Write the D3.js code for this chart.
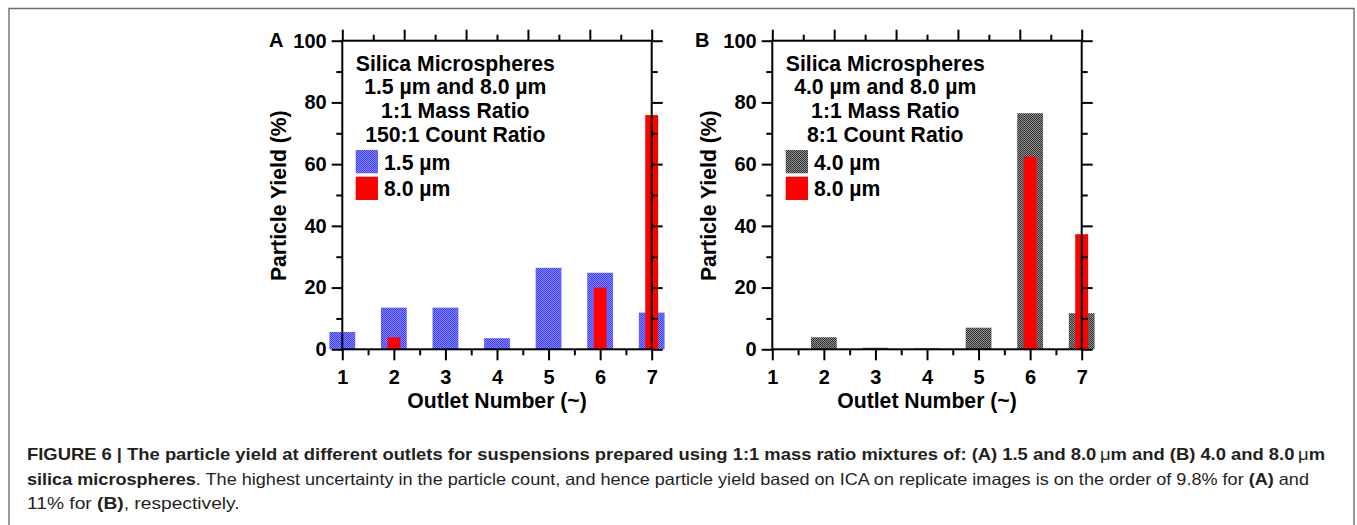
<!DOCTYPE html>
<html>
<head>
<meta charset="utf-8">
<script src="https://cdn.jsdelivr.net/npm/d3@7/dist/d3.min.js"></script>
<style>
  html, body { margin: 0; padding: 0; background: #fff; }
  svg { display: block; }
  .chart text { font-family: "Liberation Sans", Arial, sans-serif; font-weight: bold; fill: #000; }
  .cap text { font-family: "Liberation Sans Narrow", "Liberation Sans", Arial, sans-serif; fill: #231f20; }
</style>
</head>
<body>
<svg id="fig" width="1357" height="525"></svg>
<script>
// ---------------- data ----------------
const outlets = [1, 2, 3, 4, 5, 6, 7];
const xTickValues = [1, 2, 3, 4, 5, 6, 7];
const xMinorValues = [1.5, 2.5, 3.5, 4.5, 5.5, 6.5];
const yTickValues = [0, 20, 40, 60, 80, 100];
const yMinorValues = [10, 30, 50, 70, 90];

const yieldA_small = [5.6, 13.5, 13.5, 3.6, 26.4, 24.8, 11.9];   // 1.5 µm
const yieldA_large = [0, 3.9, 0, 0, 0, 20.0, 75.9];              // 8.0 µm
const yieldB_small = [0, 3.9, 0.5, 0.3, 7.0, 76.5, 11.7];        // 4.0 µm
const yieldB_large = [0, 0, 0, 0, 0, 62.4, 37.3];                // 8.0 µm

const legendA = ["Silica Microspheres", "1.5 µm and 8.0 µm", "1:1 Mass Ratio", "150:1 Count Ratio"];
const legendB = ["Silica Microspheres", "4.0 µm and 8.0 µm", "1:1 Mass Ratio", "8:1 Count Ratio"];
const seriesA = ["1.5 µm", "8.0 µm"];
const seriesB = ["4.0 µm", "8.0 µm"];
const xTitle = "Outlet Number (~)";
const yTitle = "Particle Yield (%)";

// ---------------- layout ----------------
const svg = d3.select("#fig");
svg.append("rect").attr("width", 1357).attr("height", 525).attr("fill", "#fff");

// outer border (open at bottom)
svg.append("path")
  .attr("d", "M9,540 L9,8.5 L1354,8.5 L1354,540")
  .attr("fill", "none").attr("stroke", "#6d6d6d").attr("stroke-width", 1.4);

const defs = svg.append("defs");
function checker(id, c1, c2) {
  const p = defs.append("pattern").attr("id", id).attr("width", 2).attr("height", 2)
    .attr("patternUnits", "userSpaceOnUse");
  p.append("rect").attr("width", 2).attr("height", 2).attr("fill", c2);
  p.append("rect").attr("width", 1).attr("height", 1).attr("fill", c1);
  p.append("rect").attr("x", 1).attr("y", 1).attr("width", 1).attr("height", 1).attr("fill", c1);
}
checker("blueDots", "#3e3eff", "#8585ff");
checker("grayDots", "#333333", "#8f8f8f");

const plotTop = 40.7, plotBottom = 349.3, frameW = 309.4;
const labelSize = "21.2px";

function panel(offsetX, letter, small, large, legendLines, seriesNames, smallFill) {
  const left = 342.3 + offsetX, right = left + frameW;
  const g = svg.append("g").attr("class", "chart");
  const x = d3.scaleLinear().domain([1, 7]).range([left, right]);
  const y = d3.scaleLinear().domain([0, 100]).range([plotBottom, plotTop]);
  const xTop = d3.scaleLinear().domain([0, 10]).range([left, right]);

  // bars (not clipped, as in the original)
  g.selectAll("rect.small").data(outlets).join("rect").attr("class", "small")
    .attr("x", d => x(d - 0.25)).attr("width", d => x(d + 0.25) - x(d - 0.25))
    .attr("y", (d, i) => y(small[i])).attr("height", (d, i) => y(0) - y(small[i]))
    .attr("fill", smallFill);
  g.selectAll("rect.large").data(outlets).join("rect").attr("class", "large")
    .attr("x", d => x(d - 0.125)).attr("width", d => x(d + 0.125) - x(d - 0.125))
    .attr("y", (d, i) => y(large[i])).attr("height", (d, i) => y(0) - y(large[i]))
    .attr("fill", "#ff0000");

  const sw = 2;
  function styleAxis(sel) {
    sel.select(".domain").remove();
    sel.selectAll(".tick line").attr("stroke", "#000").attr("stroke-width", sw);
    sel.selectAll(".tick text").attr("fill", "#000")
      .style("font-family", "'Liberation Sans', Arial, sans-serif")
      .style("font-weight", "bold").style("font-size", "20px");
  }
  // bottom
  g.append("g").attr("transform", `translate(0,${plotBottom})`)
    .call(d3.axisBottom(x).tickValues(xTickValues).tickSize(11).tickPadding(9.2).tickFormat(d3.format("d")))
    .call(styleAxis);
  g.append("g").attr("transform", `translate(0,${plotBottom})`)
    .call(d3.axisBottom(x).tickValues(xMinorValues).tickSize(6).tickFormat(""))
    .call(styleAxis);
  // top
  g.append("g").attr("transform", `translate(0,${plotTop})`)
    .call(d3.axisTop(xTop).tickValues([0, 2, 4, 6, 8, 10]).tickSize(11).tickFormat(""))
    .call(styleAxis);
  g.append("g").attr("transform", `translate(0,${plotTop})`)
    .call(d3.axisTop(xTop).tickValues([1, 3, 5, 7, 9]).tickSize(6).tickFormat(""))
    .call(styleAxis);
  // left
  g.append("g").attr("transform", `translate(${left},0)`)
    .call(d3.axisLeft(y).tickValues(yTickValues).tickSize(10.6).tickPadding(5).tickFormat(d3.format("d")))
    .call(styleAxis);
  g.append("g").attr("transform", `translate(${left},0)`)
    .call(d3.axisLeft(y).tickValues(yMinorValues).tickSize(6).tickFormat(""))
    .call(styleAxis);
  // right
  g.append("g").attr("transform", `translate(${right},0)`)
    .call(d3.axisRight(y).tickValues(yTickValues).tickSize(11).tickFormat(""))
    .call(styleAxis);
  g.append("g").attr("transform", `translate(${right},0)`)
    .call(d3.axisRight(y).tickValues(yMinorValues).tickSize(6).tickFormat(""))
    .call(styleAxis);

  // frame
  g.append("rect").attr("x", left).attr("y", plotTop).attr("width", right - left).attr("height", plotBottom - plotTop)
    .attr("fill", "none").attr("stroke", "#000").attr("stroke-width", sw);

  // titles
  g.append("text").attr("x", (left + right) / 2).attr("y", 407.7).attr("text-anchor", "middle")
    .style("font-size", labelSize).text(xTitle);
  g.append("text").attr("transform", `translate(${285.5 + offsetX},195.7) rotate(-90)`)
    .attr("text-anchor", "middle").style("font-size", labelSize).text(yTitle);
  g.append("text").attr("x", offsetX === 0 ? 269 : 695).attr("y", 46.7)
    .style("font-size", "20px").text(letter);

  // legend text
  const baselines = [70.7, 94.3, 118.3, 142.3];
  g.selectAll("text.leg").data(legendLines).join("text").attr("class", "leg")
    .attr("x", left + 113).attr("y", (d, i) => baselines[i]).attr("text-anchor", "middle")
    .style("font-size", labelSize).text(d => d);
  // legend series
  const swY = [150, 176.7];
  const fills = [smallFill, "#ff0000"];
  seriesNames.forEach((name, i) => {
    g.append("rect").attr("x", left + 13.4).attr("y", swY[i]).attr("width", 22.3).attr("height", 23.3)
      .attr("fill", fills[i]);
    g.append("text").attr("x", left + 41.7).attr("y", swY[i] + 19.5)
      .style("font-size", labelSize).text(name);
  });
}

panel(0, "A", yieldA_small, yieldA_large, legendA, seriesA, "url(#blueDots)");
panel(430, "B", yieldB_small, yieldB_large, legendB, seriesB, "url(#grayDots)");

// ---------------- caption ----------------
const cap = svg.append("g").attr("class", "cap");
const capLines = [
  { y: 460, len: 1298, parts: [
    ["FIGURE 6 | The particle yield at different outlets for suspensions prepared using 1:1 mass ratio mixtures of: (A) 1.5 and 8.0\u2009", "bold"],
    ["μ", "normal"], ["m and (B) 4.0 and 8.0\u2009", "bold"], ["μ", "normal"], ["m", "bold"]] },
  { y: 485, len: 1282, parts: [
    ["silica microspheres", "bold"],
    [". The highest uncertainty in the particle count, and hence particle yield based on ICA on replicate images is on the order of 9.8% for ", "normal"],
    ["(A)", "bold"], [" and", "normal"]] },
  { y: 508.5, len: 212.6, parts: [
    ["11% for ", "normal"], ["(B)", "bold"], [", respectively.", "normal"]] }
];
capLines.forEach(l => {
  const t = cap.append("text").attr("x", 27).attr("y", l.y)
    .attr("textLength", l.len).attr("lengthAdjust", "spacingAndGlyphs")
    .style("font-size", "16.5px");
  l.parts.forEach(p => t.append("tspan").style("font-weight", p[1]).text(p[0]));
});
</script>
</body>
</html>
